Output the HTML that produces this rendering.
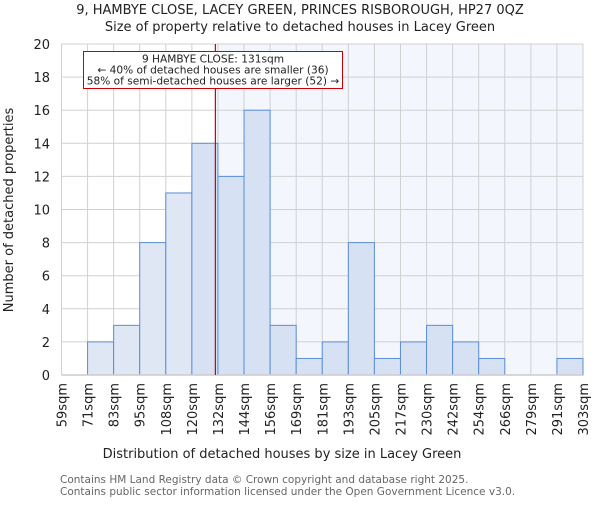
<!DOCTYPE html>
<html><head><meta charset="utf-8"><style>
body{margin:0;background:#fff}
svg{font-family:"DejaVu Sans","Liberation Sans",sans-serif}
</style></head><body>
<svg id="chart" width="600" height="500">
<text x="300" y="14" text-anchor="middle" font-size="13" fill="#222">9, HAMBYE CLOSE, LACEY GREEN, PRINCES RISBOROUGH, HP27 0QZ</text>
<text x="300" y="31" text-anchor="middle" font-size="13" fill="#222">Size of property relative to detached houses in Lacey Green</text>
<g id="plot"></g>
<text x="282" y="458" text-anchor="middle" font-size="13" fill="#222">Distribution of detached houses by size in Lacey Green</text>
<text transform="translate(13,210) rotate(-90)" text-anchor="middle" font-size="13" fill="#222">Number of detached properties</text>
<text x="60" y="483" font-size="10.5" fill="#666">Contains HM Land Registry data © Crown copyright and database right 2025.</text>
<text x="60" y="495" font-size="10.5" fill="#666">Contains public sector information licensed under the Open Government Licence v3.0.</text>
</svg>
<script>
const binLabels=["59sqm","71sqm","83sqm","95sqm","108sqm","120sqm","132sqm","144sqm","156sqm","169sqm","181sqm","193sqm","205sqm","217sqm","230sqm","242sqm","254sqm","266sqm","279sqm","291sqm","303sqm"];
const counts=[0,2,3,8,11,14,12,16,3,1,2,8,1,2,3,2,1,0,0,1];
const yTicks=[0,2,4,6,8,10,12,14,16,18,20];
const propertySize=131;
const binStart=59, binWidthSqm=12.2;
const X0=61.5,X1=583,Y0=375,Y1=44,YMAX=20;
const n=counts.length, bw=(X1-X0)/n;
const xb=i=>X0+i*bw;
const xv=v=>X0+(v-binStart)/binWidthSqm*bw;
const y=v=>Y0-(v/YMAX)*(Y0-Y1);
const NS="http://www.w3.org/2000/svg";
const g=document.getElementById('plot');
function mk(t,a,p){const e=document.createElementNS(NS,t);for(const k in a)e.setAttribute(k,a[k]);(p||g).appendChild(e);return e;}
const lx=xv(propertySize);
const bg=mk('rect',{x:lx,y:Y1,width:X1-lx,height:Y0-Y1,fill:'#f3f6fd'});


for(let i=0;i<=n;i++){const l=mk('line',{x1:xb(i),x2:xb(i),y1:Y1,y2:Y0,stroke:'#d0d0d0','stroke-width':1});

}
yTicks.forEach(t=>{const l=mk('line',{x1:X0,x2:X1,y1:y(t),y2:y(t),stroke:'#d0d0d0','stroke-width':1});


const tx=mk('text',{x:50,y:y(t)+5,'text-anchor':'end','font-size':13,fill:'#222'});tx.textContent=t;

});
counts.forEach((c,i)=>{if(!c)return;const left=xb(i+1)<=lx+1;
const r=mk('rect',{x:xb(i),y:y(c),width:bw,height:Y0-y(c),fill:left?'#dfe7f5':'#d6e1f3',stroke:'#5b8ed8','stroke-width':1});

});
binLabels.forEach((s,i)=>{const t=mk('text',{transform:`translate(${xb(i)+5},383) rotate(-90)`,'text-anchor':'end','font-size':13,fill:'#222'});t.textContent=s;

});
const ax=mk('line',{x1:X0,x2:X1,y1:Y0,y2:Y0,stroke:'#ccc','stroke-width':1.5});


const rl=mk('line',{x1:lx,x2:lx,y1:Y1,y2:Y0,stroke:'#cc0000','stroke-width':1.2});


const box=mk('rect',{x:83.5,y:51.5,width:259,height:37,fill:'#fff',stroke:'#cc0000','stroke-width':1});


["9 HAMBYE CLOSE: 131sqm","← 40% of detached houses are smaller (36)","58% of semi-detached houses are larger (52) →"].forEach((s,i)=>{
const t=mk('text',{x:213,y:62.5+i*11,'text-anchor':'middle','font-size':10.6,fill:'#222'});t.textContent=s;

});
</script>
</body></html>
